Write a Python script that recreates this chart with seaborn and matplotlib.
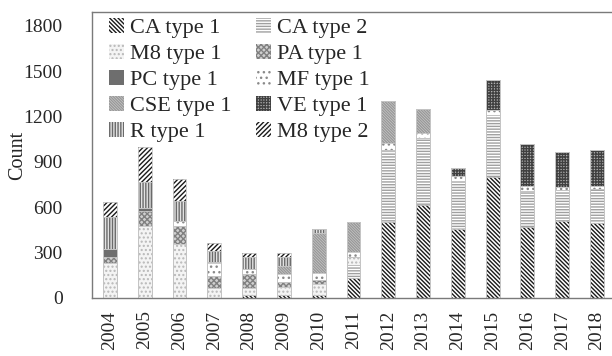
import numpy as np
import pandas as pd
import matplotlib
matplotlib.use("Agg")
import matplotlib.pyplot as plt
from matplotlib.patches import Patch
import seaborn as sns

years = ["2004", "2005", "2006", "2007", "2008", "2009", "2010", "2011",
         "2012", "2013", "2014", "2015", "2016", "2017", "2018"]

series_names = ["CA type 1", "CA type 2", "M8 type 1", "PA type 1", "PC type 1",
                "MF type 1", "CSE type 1", "VE type 1", "R type 1", "M8 type 2"]

ca_type1 = [0, 0, 0, 0, 20, 20, 22, 130, 505, 615, 455, 799, 468, 512, 498]
ca_type2 = [0, 0, 0, 0, 0, 0, 0, 88, 464, 442, 321, 412, 236, 203, 223]
m8_type1 = [230, 478, 355, 68, 45, 50, 70, 55, 10, 0, 0, 0, 0, 0, 0]
pa_type1 = [43, 97, 121, 80, 95, 35, 25, 0, 0, 0, 0, 0, 0, 0, 0]
pc_type1 = [51, 20, 0, 0, 0, 0, 0, 0, 0, 0, 0, 0, 0, 0, 0]
mf_type1 = [0, 0, 36, 80, 30, 55, 45, 33, 45, 37, 31, 29, 33, 18, 20]
cse_type1 = [0, 0, 0, 10, 0, 50, 265, 199, 280, 155, 0, 0, 0, 0, 0]
ve_type1 = [0, 0, 0, 0, 0, 0, 0, 0, 0, 0, 51, 203, 282, 229, 238]
r_type1 = [214, 172, 130, 75, 82, 60, 27, 0, 0, 0, 0, 0, 0, 0, 0]
m8_type2 = [95, 230, 143, 50, 28, 30, 0, 0, 0, 0, 0, 0, 0, 0, 0]

layers = [ca_type1, ca_type2, m8_type1, pa_type1, pc_type1,
          mf_type1, cse_type1, ve_type1, r_type1, m8_type2]

# face colour, hatch colour, hatch pattern for each series
styles = [
    ("#ffffff", "#1a1a1a", "\\" * 8),
    ("#ffffff", "#a0a0a0", "-" * 6),
    ("#f4f4f4", "#b8b8b8", "." * 4),
    ("#d0d0d0", "#808080", "x" * 6),
    ("#6e6e6e", "#6e6e6e", ""),
    ("#ffffff", "#8a8a8a", "." * 3),
    ("#d0d0d0", "#999999", "\\" * 12),
    ("#b0b0b0", "#404040", "+" * 6),
    ("#e2e2e2", "#6a6a6a", "|" * 6),
    ("#ffffff", "#1a1a1a", "/" * 7),
]

sns.set_theme(style="white")
plt.rcParams["font.family"] = ["Liberation Serif", "DejaVu Serif"]
plt.rcParams["hatch.linewidth"] = 1.0

fig = plt.figure(figsize=(6.12, 3.56), dpi=100)
ax = fig.add_axes([0.150, 0.163, 0.850, 0.803])

df = pd.DataFrame({name: vals for name, vals in zip(series_names, layers)}, index=years)
cum = df.cumsum(axis=1)

# Stacked bars: draw cumulative totals from the top series down so each
# opaque layer covers the one above it, leaving only its own segment visible.
for i in range(len(series_names) - 1, -1, -1):
    face, hcol, hatch = styles[i]
    sns.barplot(x=years, y=cum[series_names[i]].values, order=years,
                color=face, saturation=1, edgecolor=hcol, linewidth=0,
                hatch=hatch, width=0.4, errorbar=None, ax=ax)

# thin light-grey outlines around every segment
for name in series_names:
    sns.barplot(x=years, y=cum[name].values, order=years, fill=False,
                edgecolor="#c4c4c4", linewidth=0.6, width=0.4,
                errorbar=None, ax=ax)

ax.set_xlim(-0.52, 14.43)
ax.set_ylim(0, 1890)
ax.set_yticks(range(0, 1801, 300))
ax.set_ylabel("Count", fontsize=14.5)
ax.yaxis.set_label_coords(-0.125, 0.5)
ax.set_xlabel("")
ax.tick_params(axis="y", labelsize=14, length=0, pad=21)
ax.tick_params(axis="x", labelsize=14, length=0, pad=9, rotation=90)

for side in ["left", "bottom", "top"]:
    ax.spines[side].set_color("#7a7a7a")
    ax.spines[side].set_linewidth(1.0)
ax.spines["right"].set_visible(False)

handles = {n: Patch(facecolor=f, edgecolor=h, hatch=p, linewidth=0, label=n)
           for (f, h, p), n in zip(styles, series_names)}
# legend reads row by row in two columns
legend_order = ["CA type 1", "M8 type 1", "PC type 1", "CSE type 1", "R type 1",
                "CA type 2", "PA type 1", "MF type 1", "VE type 1", "M8 type 2"]
ax.legend(handles=[handles[n] for n in legend_order], ncol=2, loc="upper left",
          bbox_to_anchor=(0.012, 1.018), frameon=False, fontsize=16,
          handlelength=0.65, handleheight=0.65, handletextpad=0.3,
          labelspacing=0.26, columnspacing=1.1, borderaxespad=0.2,
          borderpad=0.3)

fig.savefig("out.png", dpi=100)
